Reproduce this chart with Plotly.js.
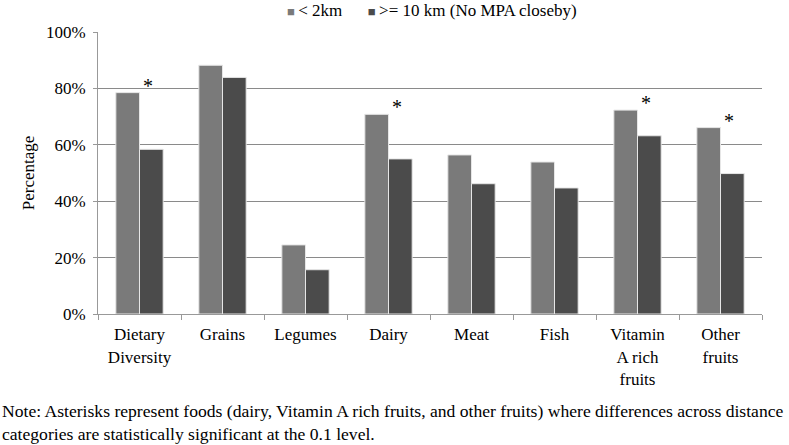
<!DOCTYPE html>
<html>
<head>
<meta charset="utf-8">
<script src="https://cdn.plot.ly/plotly-3.0.1.min.js"></script>
<style>html,body{margin:0;padding:0;background:#fff;}#chart{width:789px;height:445px;}</style>
</head>
<body>
<div id="chart"></div>
<script>
var categories = ["Dietary<br>Diversity", "Grains", "Legumes", "Dairy", "Meat", "Fish", "Vitamin<br>A rich<br>fruits", "Other<br>fruits"];
var near = [0.785, 0.882, 0.245, 0.708, 0.564, 0.539, 0.723, 0.661];
var far = [0.584, 0.839, 0.157, 0.550, 0.462, 0.447, 0.632, 0.498];
var significant = [true, false, false, true, false, false, true, true];
var seriesNames = ["< 2km", ">= 10 km (No MPA closeby)"];
var seriesColors = ["#7a7a7a", "#4b4b4b"];
var yTicks = [0, 0.2, 0.4, 0.6, 0.8, 1.0];
var yTickText = ["0%", "20%", "40%", "60%", "80%", "100%"];
var noteText = "Note: Asterisks represent foods (dairy, Vitamin A rich fruits, and other fruits) where differences across distance<br>categories are statistically significant at the 0.1 level.";

var font = "Liberation Serif, Times New Roman, serif";

function esc(s) { return s.replace(/&/g, "&amp;").replace(/</g, "&lt;").replace(/>/g, "&gt;"); }

var traces = [
  {type: "bar", name: seriesNames[0], x: categories, y: near, showlegend: false,
   marker: {color: seriesColors[0], line: {color: "#e6e6e6", width: 1}}},
  {type: "bar", name: seriesNames[1], x: categories, y: far, showlegend: false,
   marker: {color: seriesColors[1], line: {color: "#e6e6e6", width: 1}}}
];

var annotations = [];
for (var i = 0; i < categories.length; i++) {
  if (significant[i]) {
    annotations.push({x: categories[i], y: near[i], xref: "x", yref: "y",
      text: "*", showarrow: false, xshift: 8, yshift: -6, yanchor: "bottom",
      font: {family: font, size: 20, color: "#000"}});
  }
}
// legend built as text with coloured square glyphs
var legendParts = [];
for (var k = 0; k < seriesNames.length; k++) {
  legendParts.push('<span style="color:' + seriesColors[k] + ';font-size:13px">■</span>\u2009' + esc(seriesNames[k]));
}
annotations.push({x: (432 - 98) / 664, y: 1 + 22 / 282, xref: "paper", yref: "paper", xanchor: "center", yanchor: "middle",
  text: legendParts.join("\u00a0\u00a0\u00a0\u00a0\u00a0\u00a0"), showarrow: false,
  font: {family: font, size: 17, color: "#000"}});

annotations.push({x: -98 / 664, y: -0.30, xref: "paper", yref: "paper", xanchor: "left", yanchor: "top",
  text: noteText, showarrow: false, align: "left",
  font: {family: font, size: 17.6, color: "#000"}});

var layout = {
  width: 789, height: 445,
  margin: {l: 98, r: 27, t: 32, b: 131, autoexpand: false},
  paper_bgcolor: "#fff", plot_bgcolor: "#fff",
  font: {family: font, size: 17, color: "#000"},
  barmode: "group", bargap: 0.43, bargroupgap: 0,
  showlegend: false,
  xaxis: {type: "category", showline: true, linecolor: "#999", linewidth: 1,
    ticks: "outside", tickson: "boundaries", ticklen: 5, tickcolor: "#999",
    showgrid: false, tickfont: {family: font, size: 17}, ticklabelstandoff: 5,
    automargin: false, fixedrange: true},
  yaxis: {range: [0, 1], tickvals: yTicks, ticktext: yTickText, showline: true,
    linecolor: "#999", linewidth: 1, ticks: "outside", ticklen: 4, tickcolor: "#999",
    showgrid: true, gridcolor: "#8a8a8a", gridwidth: 1, zeroline: false,
    tickfont: {family: font, size: 17}, ticklabelstandoff: 4, automargin: false,
    title: {text: "Percentage", font: {family: font, size: 17}, standoff: 6}},
  annotations: annotations
};

Plotly.newPlot("chart", traces, layout, {displayModeBar: false, staticPlot: true});
</script>
</body>
</html>
